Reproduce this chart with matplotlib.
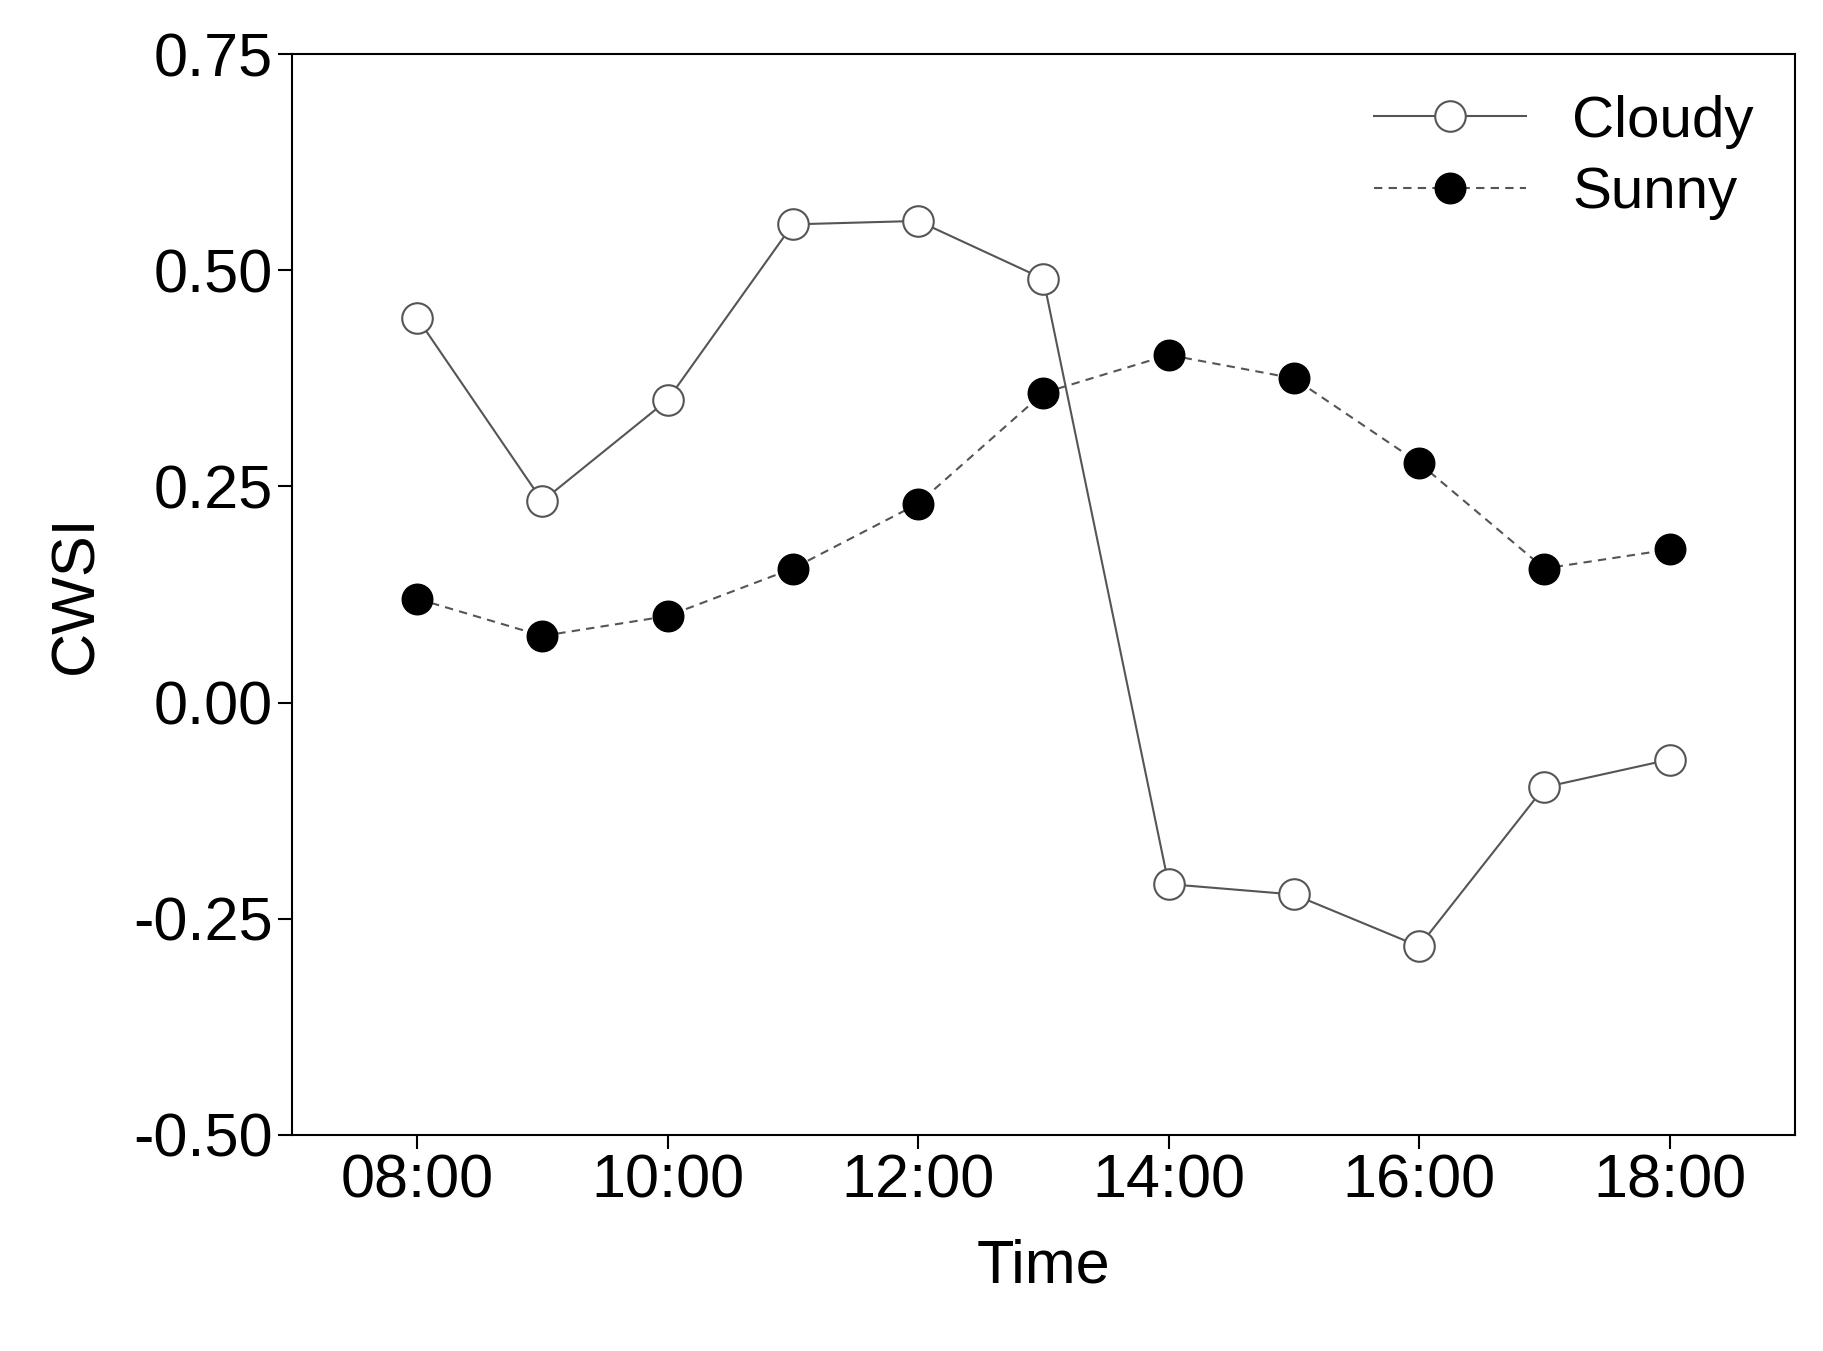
import matplotlib
matplotlib.use("Agg")
import matplotlib.pyplot as plt

hours = [8, 9, 10, 11, 12, 13, 14, 15, 16, 17, 18]
cloudy = [0.445, 0.233, 0.350, 0.553, 0.557, 0.490, -0.210, -0.222, -0.282, -0.098, -0.066]
sunny = [0.120, 0.077, 0.100, 0.155, 0.230, 0.358, 0.402, 0.375, 0.277, 0.155, 0.177]
xtick_pos = [8, 10, 12, 14, 16, 18]
xtick_labels = ["08:00", "10:00", "12:00", "14:00", "16:00", "18:00"]
yticks = [-0.50, -0.25, 0.00, 0.25, 0.50, 0.75]

plt.rcParams["font.family"] = ["Liberation Sans", "DejaVu Sans"]

fig = plt.figure(figsize=(18.24, 13.51), dpi=100)
ax = fig.add_axes([0.16, 0.16, 0.824, 0.80])

ax.plot(hours, cloudy, "-o", color="#555555", lw=1.5, markersize=22,
        markerfacecolor="white", markeredgecolor="#555555", markeredgewidth=1.5,
        label="Cloudy")
ax.plot(hours, sunny, "--o", color="#555555", lw=1.5, dashes=(4, 3), markersize=22,
        markerfacecolor="black", markeredgecolor="black", label="Sunny")

ax.set_xlim(7, 19)
ax.set_ylim(-0.5, 0.75)
ax.set_xticks(xtick_pos)
ax.set_xticklabels(xtick_labels)
ax.set_yticks(yticks)
ax.set_yticklabels(["{:.2f}".format(v) for v in yticks])
ax.tick_params(labelsize=44, length=10, width=1.5, direction="out")
for s in ax.spines.values():
    s.set_linewidth(1.5)

ax.set_xlabel("Time", fontsize=44, labelpad=20)
ax.set_ylabel("CWSI", fontsize=44, labelpad=20)

ax.legend(loc="upper right", fontsize=42, frameon=False, handlelength=2.6,
          borderaxespad=0.3, labelspacing=0.3)

fig.savefig("out.png", dpi=100)
